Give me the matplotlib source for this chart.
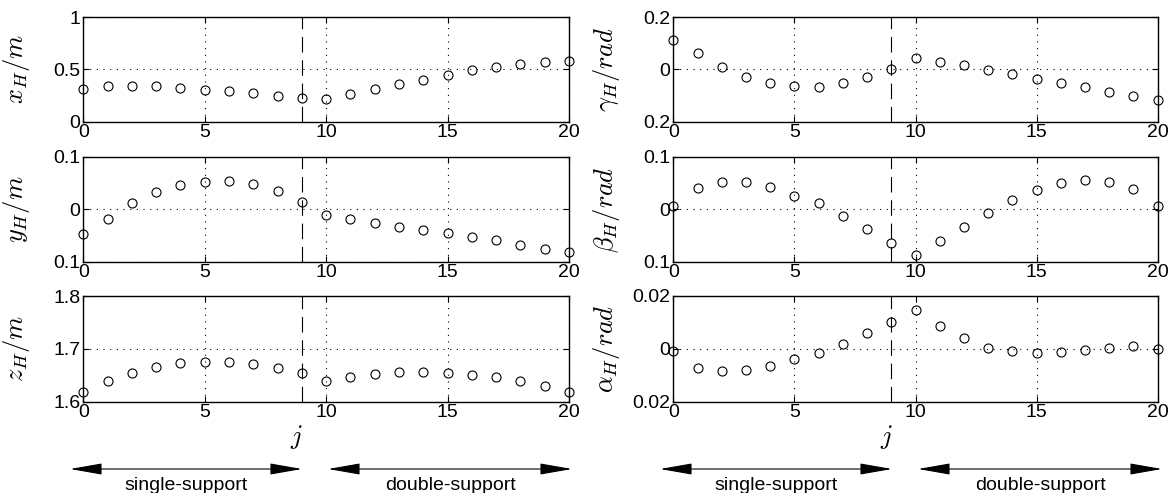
import matplotlib as mpl
mpl.use('Agg')
import matplotlib.pyplot as plt

# step index
j = list(range(21))

# hip position (m)
x_h = [0.311, 0.34, 0.34, 0.337, 0.32, 0.30, 0.29, 0.27, 0.25, 0.23, 0.215,
       0.26, 0.31, 0.36, 0.40, 0.45, 0.49, 0.52, 0.55, 0.57, 0.58]
y_h = [-0.048, -0.019, 0.011, 0.032, 0.046, 0.051, 0.054, 0.048, 0.034, 0.014, -0.011,
       -0.019, -0.026, -0.033, -0.039, -0.046, -0.053, -0.059, -0.068, -0.075, -0.082]
z_h = [1.618, 1.639, 1.655, 1.666, 1.673, 1.676, 1.675, 1.671, 1.664, 1.654, 1.640,
       1.647, 1.652, 1.656, 1.656, 1.654, 1.651, 1.646, 1.639, 1.629, 1.618]

# hip orientation (rad)
gamma_h = [0.114, 0.061, 0.010, -0.028, -0.052, -0.065, -0.066, -0.053, -0.030, 0.003, 0.044,
           0.029, 0.015, -0.001, -0.018, -0.036, -0.052, -0.069, -0.085, -0.103, -0.117]
beta_h = [0.006, 0.041, 0.051, 0.051, 0.042, 0.025, 0.011, -0.013, -0.038, -0.064, -0.088,
          -0.060, -0.034, -0.007, 0.017, 0.036, 0.050, 0.055, 0.051, 0.038, 0.006]
alpha_h = [-0.001, -0.0072, -0.0085, -0.0081, -0.0064, -0.0038, -0.0016, 0.0019, 0.0059, 0.0102, 0.0148,
           0.0088, 0.0042, 0.0005, -0.001, -0.0015, -0.0012, -0.0005, 0.0005, 0.001, 0.0]

# phase switch
switch_step = 9

# y ticks as printed (minus signs lost in the original)
x_ticks, x_labels = [0, 0.5, 1], ['0', '0.5', '1']
y_ticks, y_labels = [-0.1, 0, 0.1], ['0.1', '0', '0.1']
z_ticks, z_labels = [1.6, 1.7, 1.8], ['1.6', '1.7', '1.8']
gamma_ticks, gamma_labels = [-0.2, 0, 0.2], ['0.2', '0', '0.2']
beta_ticks, beta_labels = [-0.1, 0, 0.1], ['0.1', '0', '0.1']
alpha_ticks, alpha_labels = [-0.02, 0, 0.02], ['0.02', '0', '0.02']

plt.rcParams['font.family'] = ['Liberation Sans', 'DejaVu Sans']
plt.rcParams['mathtext.fontset'] = 'cm'

W, H = 1172, 493


def panel(fig, rect, values, ticks, labels, ylabel):
    ax = fig.add_axes(rect)
    ax.plot(j, values, linestyle='none', marker='o', markersize=6.5,
            markerfacecolor='none', markeredgecolor='black', markeredgewidth=0.8, clip_on=False)
    ax.axvline(switch_step, color='black', linewidth=0.8, dashes=(14, 7))
    ax.set_xlim(0, 20)
    ax.set_ylim(ticks[0], ticks[-1])
    ax.set_xticks([0, 5, 10, 15, 20])
    ax.set_yticks(ticks)
    ax.set_yticklabels(labels)
    ax.tick_params(direction='in', length=4, width=0.8, top=True, right=True, labelsize=14, pad=2)
    ax.grid(True, color='black', linestyle=(0, (1, 5)), linewidth=0.8)
    for s in ax.spines.values():
        s.set_linewidth(1.0)
    ax.set_ylabel(ylabel, fontsize=19)
    ax.yaxis.set_label_coords(-0.105, 0.5)
    return ax


fig = plt.figure(figsize=(W / 100, H / 100), dpi=100)

rows = [(17, 121.7), (156.7, 261.7), (296, 401.7)]
cols = [(83.3, 569), (673.3, 1157.7)]

left = [(x_h, x_ticks, x_labels, r'$x_H/m$'),
        (y_h, y_ticks, y_labels, r'$y_H/m$'),
        (z_h, z_ticks, z_labels, r'$z_H/m$')]
right = [(gamma_h, gamma_ticks, gamma_labels, r'$\gamma_H/rad$'),
         (beta_h, beta_ticks, beta_labels, r'$\beta_H/rad$'),
         (alpha_h, alpha_ticks, alpha_labels, r'$\alpha_H/rad$')]

for (x0, x1), series in zip(cols, [left, right]):
    for (t, b), (vals, ticks, labels, name) in zip(rows, series):
        rect = [x0 / W, 1 - b / H, (x1 - x0) / W, (b - t) / H]
        panel(fig, rect, vals, ticks, labels, name)

# x label and phase arrows below each column
for dx in [0, 590]:
    fig.text((296 + dx) / W, 1 - 437 / H, '$j$', fontsize=19, ha='center', va='center')
    for a, b, name in [(70, 302, 'single-support'), (328, 572, 'double-support')]:
        fig.add_artist(mpl.patches.FancyArrowPatch(
            ((a + dx) / W, 1 - 469 / H), ((b + dx) / W, 1 - 469 / H),
            transform=fig.transFigure, arrowstyle='<|-|>,head_length=2.0,head_width=0.35',
            mutation_scale=10, color='black', linewidth=0.8, shrinkA=0, shrinkB=0))
        fig.text((a + b + 2 * dx) / 2 / W, 1 - 485 / H, name, fontsize=14,
                 ha='center', va='center')

fig.savefig('out.png', dpi=100)
plt.close(fig)
